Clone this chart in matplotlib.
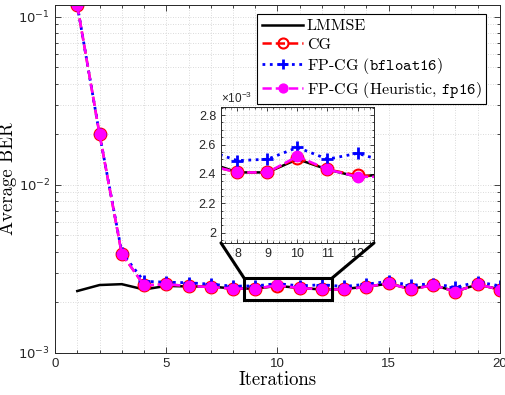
import numpy as np
import matplotlib
matplotlib.use("Agg")
import matplotlib.pyplot as plt
from matplotlib.patches import Rectangle, ConnectionPatch
from matplotlib.ticker import MultipleLocator, FuncFormatter, LogLocator, NullFormatter

plt.rcParams['mathtext.fontset'] = 'custom'
plt.rcParams['mathtext.rm'] = 'Liberation Sans'
plt.rcParams['mathtext.tt'] = 'cmtt10'
plt.rcParams['axes.unicode_minus'] = False

iters = np.arange(1, 21)
lmmse = np.array([2.33, 2.53, 2.56, 2.38, 2.50, 2.48, 2.48, 2.41, 2.41, 2.50,
                  2.43, 2.38, 2.40, 2.47, 2.58, 2.40, 2.53, 2.32, 2.55, 2.38]) * 1e-3
cg = np.array([117.0, 20.0, 3.88, 2.52, 2.55, 2.50, 2.46, 2.41, 2.41, 2.51,
               2.43, 2.39, 2.38, 2.47, 2.59, 2.38, 2.53, 2.31, 2.56, 2.37]) * 1e-3
bf16 = np.array([117.0, 20.0, 3.95, 2.66, 2.63, 2.61, 2.56, 2.49, 2.50, 2.58,
                 2.50, 2.54, 2.48, 2.56, 2.66, 2.52, 2.58, 2.45, 2.64, 2.50]) * 1e-3
heur = np.array([117.0, 20.0, 3.88, 2.52, 2.55, 2.50, 2.46, 2.41, 2.41, 2.52,
                 2.43, 2.38, 2.38, 2.47, 2.59, 2.38, 2.53, 2.31, 2.56, 2.37]) * 1e-3
labels = ['LMMSE', 'CG', r'FP-CG ($\mathtt{bfloat16}$)', r'FP-CG (Heuristic, $\mathtt{fp16}$)']

axcol = '#262626'
gridkw = dict(color='#cfcfcf', linestyle=(0, (1, 2)), linewidth=0.6)


def draw(ax):
    ax.plot(iters, lmmse, '-', color='k', lw=1.8, label=labels[0])
    ax.plot(iters, cg, '--', color='red', lw=1.8, marker='o', ms=8.5,
            mfc='none', mec='red', mew=1.5, label=labels[1])
    ax.plot(iters, bf16, ':', color='blue', lw=2.0, marker='+', ms=8,
            mew=2, label=labels[2])
    ax.plot(iters, heur, '--', color='magenta', lw=1.8, marker='o', ms=7.5,
            mfc='magenta', mec='magenta', label=labels[3])


def style(a, lsize, maj, mnr):
    a.grid(True, which='both', **gridkw)
    a.set_axisbelow(True)
    a.tick_params(which='both', direction='in', top=True, right=True, colors=axcol,
                  labelsize=lsize, width=0.6)
    a.tick_params(which='major', length=maj)
    a.tick_params(which='minor', length=mnr)
    for s in a.spines.values():
        s.set_color(axcol)
        s.set_linewidth(0.7)


fig = plt.figure(figsize=(5.05, 3.95), dpi=100)
ax = fig.add_axes([0.109, 0.107, 0.881, 0.881])
draw(ax)
ax.set_yscale('log')
ax.set_xlim(0, 20)
ax.set_ylim(1e-3, 0.118)
ax.xaxis.set_major_locator(MultipleLocator(5))
ax.xaxis.set_minor_locator(MultipleLocator(1))
ax.yaxis.set_major_locator(LogLocator(base=10, numticks=10))
ax.yaxis.set_minor_locator(LogLocator(base=10, subs=np.arange(2, 10), numticks=20))
ax.yaxis.set_minor_formatter(NullFormatter())
style(ax, 9.5, 4, 2.2)
for lab in ax.get_xticklabels():
    lab.set_fontfamily('Liberation Sans')
ax.set_xlabel('Iterations', fontfamily='cmr10', fontsize=13.5, labelpad=1)
ax.set_ylabel('Average BER', fontfamily='cmr10', fontsize=13.5)
ax.yaxis.set_label_coords(-0.085, 0.5)

leg = ax.legend(loc='upper right', bbox_to_anchor=(0.969, 0.972), borderaxespad=0,
                prop={'family': 'cmr10', 'size': 11.5}, fancybox=False,
                edgecolor='k', framealpha=1, numpoints=1, handlelength=2.6,
                handletextpad=0.2, labelspacing=0.25, borderpad=0.3, markerscale=0.85)
leg.get_frame().set_linewidth(0.8)

# zoom box and inset
x0, x1, y0, y1 = 8.5, 12.45, 2.05e-3, 2.78e-3
ax.add_patch(Rectangle((x0, y0), x1 - x0, y1 - y0, fill=False, ec='k', lw=2.2, zorder=5))

axin = fig.add_axes([0.4376, 0.385, 0.303, 0.344])
draw(axin)
axin.set_xlim(7.45, 12.55)
axin.set_ylim(1.93e-3, 2.855e-3)
axin.xaxis.set_major_locator(MultipleLocator(1))
axin.xaxis.set_minor_locator(MultipleLocator(0.2))
axin.yaxis.set_major_locator(MultipleLocator(0.2e-3))
axin.yaxis.set_minor_locator(MultipleLocator(0.05e-3))
axin.yaxis.set_major_formatter(FuncFormatter(lambda v, p: f'{v * 1e3:g}'))
style(axin, 9, 3, 1.5)
for lab in axin.get_xticklabels() + axin.get_yticklabels():
    lab.set_fontfamily('Liberation Sans')
axin.text(0.0, 1.01, r'$\times 10^{-3}$', transform=axin.transAxes, fontsize=8.5,
          color=axcol, ha='left', va='bottom')

for xa, xb in [(x0, 0), (x1, 1)]:
    con = ConnectionPatch(xyA=(xa, y1), coordsA=ax.transData, xyB=(xb, 0),
                          coordsB=axin.transAxes, color='k', lw=2.2, zorder=6)
    fig.add_artist(con)

fig.savefig('out.png', dpi=100)
